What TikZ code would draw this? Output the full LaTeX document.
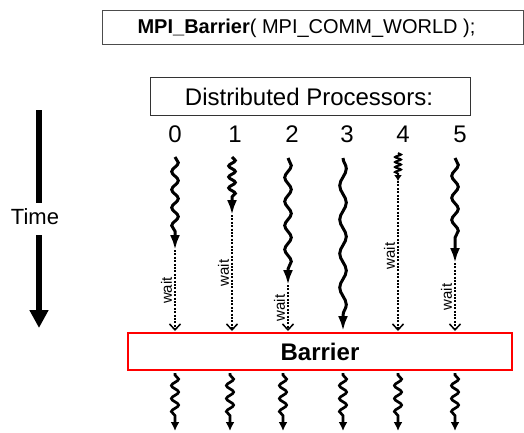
\documentclass[tikz,border=0pt]{standalone}
\usepackage{fontspec}
\setmainfont{Liberation Sans}
\usetikzlibrary{decorations.pathmorphing,arrows.meta}

\begin{document}
\begin{tikzpicture}[x=1pt,y=-1pt,
  txt/.style={inner sep=0pt, font=\fontsize{#1}{#1}\selectfont},
  frame/.style={draw=#1, line width=1pt, inner sep=0pt},
  worker/.style={line width=3pt, decorate,
    decoration={snake, amplitude=3.3pt, segment length=#1, post length=15pt},
    -{Latex[length=15pt,width=10pt]}},
  resume/.style={line width=2.7pt, decorate,
    decoration={snake, amplitude=3.6pt, segment length=13pt, post length=9pt, pre length=2pt},
    -{Latex[length=9pt,width=9pt]}},
  idle/.style={line width=2.2pt, dash pattern=on 2pt off 1.4pt,
    -{Straight Barb[length=6pt,width=11pt,line width=1.5pt]}},
  waitlbl/.style={rotate=90, anchor=south, inner sep=2pt, font=\fontsize{15}{15}\selectfont},
  timeline/.style={line width=5.5pt}
]
\useasboundingbox (0,0) rectangle (524,432);

% call being made
\node[frame=black!70, minimum width=421pt, minimum height=34pt] (call) at (312.5,27) {};
\node[txt=20] (calltxt) at (306.5,28) {\textbf{MPI\_Barrier}( MPI\_COMM\_WORLD );};

% processor header
\node[frame=black!80, minimum width=320pt, minimum height=38pt] (hdr) at (310,96) {};
\node[txt=24] (hdrtxt) at (309,97) {Distributed Processors:};

\foreach \i/\x in {0/175,1/235,2/292,3/347,4/403,5/460}
  \node[txt=24] (p\i) at (\x,134) {\i};

% time axis
\node[txt=22] (time) at (35,217) {Time};
\coordinate (ta) at (39,110);
\coordinate (tb) at (39,203);
\coordinate (tc) at (39,235);
\coordinate (td) at (39,328);
\draw[timeline] (ta) -- (tb);
\draw[timeline, -{Triangle[length=18pt,width=18pt]}] (tc) -- (td);

% barrier
\node[draw=red, line width=2.4pt, fill=white, minimum width=384pt, minimum height=37pt,
      inner sep=0pt, font=\fontsize{24}{24}\selectfont\bfseries] (bar) at (320,351.5) {Barrier};

% work done by each processor before reaching the barrier
\coordinate (s0) at (175,157); \coordinate (e0) at (175,250);
\coordinate (s1) at (232,157); \coordinate (e1) at (232,215);
\coordinate (s2) at (288,158); \coordinate (e2) at (288,285);
\coordinate (s3) at (343,158); \coordinate (e3) at (343,331);
\coordinate (s4) at (398,153); \coordinate (e4) at (398,181);
\coordinate (s5) at (455,158); \coordinate (e5) at (455,263);

\draw[worker=18pt] (s0) -- (e0);
\draw[worker=11pt] (s1) -- (e1);
\draw[worker=24pt] (s2) -- (e2);
\draw[worker=34pt] (s3) -- (e3);
\draw[line width=2pt, decorate, decoration={snake, amplitude=3pt, segment length=5pt, post length=6pt},
      -{Latex[length=6pt,width=8pt]}] (s4) -- (e4);
\draw[worker=22pt] (s5) -- (e5);

% idle time until the barrier is released
\foreach \i in {0,1,2,4,5}{
  \coordinate (w\i) at (e\i |- 0,331);
  \draw[idle] (e\i) -- node[waitlbl] {wait} (w\i);
}

% execution continues after the barrier
\foreach \i/\x in {0/175,1/230,2/283,3/343,4/398,5/455}{
  \coordinate (r\i) at (\x,373);
  \coordinate (q\i) at (\x,431);
  \draw[resume] (r\i) -- (q\i);
}
\end{tikzpicture}
\end{document}
